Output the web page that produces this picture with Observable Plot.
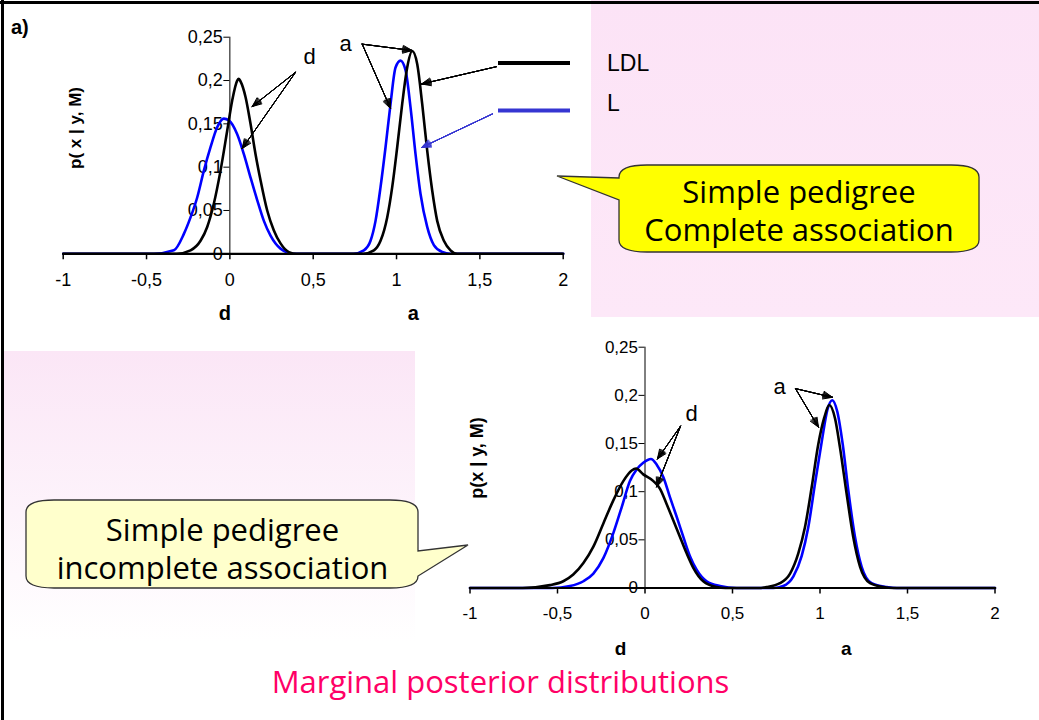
<!DOCTYPE html>
<html><head><meta charset="utf-8">
<script src="https://cdn.jsdelivr.net/npm/d3@7"></script>
<script src="https://cdn.jsdelivr.net/npm/@observablehq/plot@0.6"></script>
<style>
html,body{margin:0;padding:0;background:#fff;}
#slide{position:relative;width:1039px;height:720px;overflow:hidden;background:#fff;}
#slide svg{overflow:visible;}
</style></head><body><div id="slide"></div>
<script>
// ---------- data ----------
const series = ["LDL", "L"];
const colors = ["#000000", "#0000ff"];
const xTicks = [-1, -0.5, 0, 0.5, 1, 1.5, 2];
const yTicks = [0, 0.05, 0.1, 0.15, 0.2, 0.25];

// a) Simple pedigree, complete association
const topLDL_x = [-1, -0.32, -0.236, -0.176, -0.136, -0.096, -0.056, -0.016, 0.014, 0.044, 0.054, 0.064, 0.094, 0.124, 0.154, 0.184, 0.224, 0.264, 0.304, 0.354, 0.40, 0.80, 0.864, 0.904, 0.944, 0.974, 1.004, 1.034, 1.064, 1.094, 1.124, 1.154, 1.184, 1.214, 1.244, 1.284, 1.324, 1.364, 2];
const topLDL_y = [0, 0, 0.004, 0.015, 0.031, 0.058, 0.096, 0.142, 0.177, 0.200, 0.202, 0.199, 0.181, 0.150, 0.115, 0.085, 0.050, 0.027, 0.012, 0.002, 0, 0, 0.004, 0.015, 0.042, 0.077, 0.123, 0.173, 0.215, 0.234, 0.219, 0.173, 0.119, 0.073, 0.038, 0.015, 0.004, 0, 0];
const topL_x = [-1, -0.456, -0.336, -0.276, -0.236, -0.196, -0.156, -0.116, -0.076, -0.036, -0.006, 0.044, 0.084, 0.124, 0.164, 0.204, 0.244, 0.304, 0.384, 0.74, 0.804, 0.844, 0.874, 0.904, 0.934, 0.964, 0.994, 1.024, 1.054, 1.084, 1.114, 1.144, 1.184, 1.224, 1.274, 1.324, 2];
const topL_y = [0, 0, 0.004, 0.023, 0.042, 0.065, 0.096, 0.123, 0.146, 0.156, 0.154, 0.138, 0.115, 0.088, 0.062, 0.038, 0.021, 0.006, 0, 0, 0.004, 0.015, 0.038, 0.077, 0.123, 0.173, 0.215, 0.223, 0.212, 0.169, 0.115, 0.069, 0.031, 0.010, 0.002, 0, 0];

// Simple pedigree, incomplete association
const botLDL_x = [-1, -0.70, -0.543, -0.467, -0.41, -0.352, -0.295, -0.238, -0.181, -0.124, -0.076, -0.051, -0.01, 0.048, 0.086, 0.124, 0.162, 0.2, 0.238, 0.276, 0.333, 0.41, 0.46, 0.65, 0.695, 0.771, 0.829, 0.876, 0.914, 0.952, 0.99, 1.023, 1.053, 1.086, 1.114, 1.152, 1.19, 1.229, 1.286, 1.362, 1.42, 2];
const botLDL_y = [0, 0, 0.003, 0.007, 0.014, 0.026, 0.043, 0.067, 0.091, 0.111, 0.122, 0.124, 0.118, 0.111, 0.103, 0.087, 0.070, 0.053, 0.036, 0.021, 0.007, 0.001, 0, 0, 0.001, 0.005, 0.015, 0.036, 0.063, 0.104, 0.149, 0.176, 0.190, 0.176, 0.146, 0.098, 0.053, 0.022, 0.005, 0.001, 0, 0];
const botL_x = [-1, -0.53, -0.429, -0.352, -0.295, -0.238, -0.181, -0.133, -0.086, -0.048, -0.01, 0.034, 0.067, 0.105, 0.143, 0.181, 0.219, 0.257, 0.295, 0.352, 0.429, 0.524, 0.733, 0.79, 0.848, 0.895, 0.933, 0.971, 1.01, 1.042, 1.07, 1.099, 1.13, 1.162, 1.2, 1.238, 1.295, 1.381, 1.44, 2];
const botL_y = [0, 0, 0.002, 0.007, 0.015, 0.031, 0.057, 0.084, 0.111, 0.123, 0.130, 0.134, 0.128, 0.115, 0.094, 0.074, 0.053, 0.033, 0.019, 0.007, 0.002, 0, 0, 0.002, 0.012, 0.033, 0.063, 0.108, 0.152, 0.185, 0.195, 0.183, 0.149, 0.101, 0.053, 0.022, 0.005, 0.001, 0, 0];

// annotations (data units)
const topNotes = [{x: 0.478, y: 0.2277, text: "d"}, {x: 0.694, y: 0.2427, text: "a"}];
const topArrows = [
  {x1: 0.394, y1: 0.2095, x2: 0.134, y2: 0.170, c: 0},
  {x1: 0.394, y1: 0.2095, x2: 0.074, y2: 0.1215, c: 0},
  {x1: 0.794, y1: 0.242, x2: 1.094, y2: 0.2346, c: 0},
  {x1: 0.794, y1: 0.242, x2: 0.964, y2: 0.1677, c: 0},
  {x1: 1.600, y1: 0.216, x2: 1.150, y2: 0.196, c: 0},
  {x1: 1.576, y1: 0.1615, x2: 1.150, y2: 0.1227, c: 1}
];
const topAxisNames = [{x: -0.03, text: "d"}, {x: 1.10, text: "a"}];
const botNotes = [{x: 0.266, y: 0.181, text: "d"}, {x: 0.769, y: 0.2087, text: "a"}];
const botArrows = [
  {x1: 0.203, y1: 0.168, x2: 0.071, y2: 0.134, c: 0},
  {x1: 0.203, y1: 0.168, x2: 0.066, y2: 0.105, c: 0},
  {x1: 0.86, y1: 0.207, x2: 1.071, y2: 0.198, c: 0},
  {x1: 0.86, y1: 0.207, x2: 0.991, y2: 0.167, c: 0}
];
const botAxisNames = [{x: -0.14, text: "d"}, {x: 1.15, text: "a"}];

const texts = {
  panel: "a)",
  yTitleTop: "p( x | y, M)",
  yTitleBot: "p(x | y, M)",
  callout1: ["Simple pedigree", "Complete association"],
  callout2: ["Simple pedigree", "incomplete association"],
  title: "Marginal posterior distributions"
};

// ---------- helpers ----------
const fmt = v => String(v).replace(".", ",");
const toRows = (xs, ys) => xs.map((x, i) => ({x, y: ys[i]}));
const blueLegend = "#3535d2";

function arrowMarks(rows) {
  const angles = [46, 36, 26, 16, 6];
  return angles.map(a => Plot.arrow(rows, {
    x1: "x1", y1: "y1", x2: "x2", y2: "y2",
    stroke: d => d.c === 1 ? blueLegend : "#000",
    strokeWidth: 1, headAngle: a, headLength: 15
  }));
}

function chart(cfg) {
  const {W, H, mL, mR, mT, mB, L, B, notes, arrows, names, yTitle, ytDx, ytDy, ytFs, fs, xPad, namesDy, namesFs, noteFs} = cfg;
  const xPix = d3.scaleLinear([-1, 2], [mL, W - mR]);
  const dx0 = xPix(0) - mL;
  return Plot.plot({
    width: W, height: H,
    marginLeft: mL, marginRight: mR, marginTop: mT, marginBottom: mB,
    x: {domain: [-1, 2], label: null},
    y: {domain: [0, 0.25], label: null},
    style: {background: "transparent", fontFamily: "'Liberation Sans', Arial, sans-serif", fontSize: fs + "px", color: "#000", overflow: "visible"},
    marks: [
      Plot.axisY(yTicks, {anchor: "left", dx: dx0, tickSize: 6, tickPadding: 1, tickFormat: fmt, label: null, fontSize: fs}),
      Plot.ruleX([0], {y1: 0, y2: 0.25, stroke: "#000", strokeWidth: 1}),
      Plot.axisX(xTicks, {anchor: "bottom", tickSize: 6, tickPadding: xPad, tickFormat: fmt, label: null, strokeWidth: 1.5, fontSize: fs}),
      Plot.line(B, {x: "x", y: "y", stroke: colors[1], strokeWidth: 2.6, curve: "monotone-x"}),
      Plot.line(L, {x: "x", y: "y", stroke: colors[0], strokeWidth: 2.6, curve: "monotone-x"}),
      Plot.ruleY([0], {stroke: "#000", strokeWidth: 2.2}),
      ...arrowMarks(arrows),
      Plot.text(notes, {x: "x", y: "y", text: "text", fontSize: noteFs, lineAnchor: "middle"}),
      Plot.text(names, {x: "x", y: () => 0, text: "text", dy: namesDy, fontSize: namesFs, fontWeight: "bold", lineAnchor: "middle"}),
      Plot.text([yTitle], {frameAnchor: "left", textAnchor: "middle", rotate: -90, dx: ytDx, dy: ytDy, fontSize: ytFs, fontWeight: "bold", lineAnchor: "middle"})
    ]
  });
}

const slide = document.getElementById("slide");
function place(el, left, top, z) {
  const d = document.createElement("div");
  d.style.cssText = `position:absolute;left:${left}px;top:${top}px;z-index:${z};`;
  d.appendChild(el);
  slide.appendChild(d);
  return d;
}
function box(left, top, w, h, bg, z) {
  const d = document.createElement("div");
  d.style.cssText = `position:absolute;left:${left}px;top:${top}px;width:${w}px;height:${h}px;background:${bg};z-index:${z};`;
  slide.appendChild(d);
}

// backgrounds
box(591, 0, 448, 317, "linear-gradient(#fce3f6, #fde8f8)", 0);
box(4, 351, 411, 290, "linear-gradient(#fbe6f6, #fdf3fb 55%, #ffffff)", 0);

// charts
place(chart({
  W: 590, H: 330, mL: 62.7, mR: 27.3, mT: 36.7, mB: 76.7,
  L: toRows(topLDL_x, topLDL_y), B: toRows(topL_x, topL_y),
  notes: topNotes, arrows: topArrows, names: topAxisNames,
  yTitle: texts.yTitleTop, ytDx: 12.8, ytDy: -17.5, ytFs: 17, fs: 18, xPad: 13.5, namesDy: 59.5, namesFs: 20, noteFs: 22
}), 0, 0, 1);

place(chart({
  W: 590, H: 340, mL: 29.5, mR: 35.5, mT: 16.7, mB: 82.5,
  L: toRows(botLDL_x, botLDL_y), B: toRows(botL_x, botL_y),
  notes: botNotes, arrows: botArrows, names: botAxisNames,
  yTitle: texts.yTitleBot, ytDx: 7.5, ytDy: -9.6, ytFs: 18, fs: 17, xPad: 13.3, namesDy: 61, namesFs: 19, noteFs: 22
}), 440, 330, 1);

// decorations overlay
function calloutLeft(x0, y0, x1, y1, rx, ry, b1, b2, tx, ty) {
  return `M${x0+rx},${y0} H${x1-rx} Q${x1},${y0} ${x1},${y0+ry} V${y1-ry} Q${x1},${y1} ${x1-rx},${y1} H${x0+rx} Q${x0},${y1} ${x0},${y1-ry} V${b2} L${tx},${ty} L${x0},${b1} V${y0+ry} Q${x0},${y0} ${x0+rx},${y0} Z`;
}
function calloutRight(x0, y0, x1, y1, rx, ry, b1, b2, tx, ty) {
  return `M${x0+rx},${y0} H${x1-rx} Q${x1},${y0} ${x1},${y0+ry} V${b1} L${tx},${ty} L${x1},${b2} V${y1-ry} Q${x1},${y1} ${x1-rx},${y1} H${x0+rx} Q${x0},${y1} ${x0},${y1-ry} V${y0+ry} Q${x0},${y0} ${x0+rx},${y0} Z`;
}
const cf = "font-family:'Open Sans',sans-serif;font-size:31px;";
const ns = "http://www.w3.org/2000/svg";
const deco = document.createElementNS(ns, "svg");
deco.setAttribute("width", 1039); deco.setAttribute("height", 720);
deco.innerHTML = `
  <rect x="0" y="1" width="1039" height="3" fill="#000"/>
  <rect x="1" y="0" width="3" height="720" fill="#000"/>
  <text x="11" y="34" style="font-family:'Liberation Sans',Arial,sans-serif;font-weight:bold;font-size:20px;">${texts.panel}</text>
  <line x1="498" x2="570" y1="63" y2="63" stroke="${colors[0]}" stroke-width="4"/>
  <line x1="498" x2="570" y1="110.5" y2="110.5" stroke="${blueLegend}" stroke-width="4"/>
  <text x="607" y="63" dominant-baseline="central" style="font-family:'Liberation Sans',Arial,sans-serif;font-size:23px;">${series[0]}</text>
  <text x="607" y="102.5" dominant-baseline="central" style="font-family:'Liberation Sans',Arial,sans-serif;font-size:23px;">${series[1]}</text>
  <path d="${calloutLeft(619, 165, 979, 252, 28, 12, 178, 200, 557, 176)}" fill="#ffff00" stroke="#333" stroke-width="1.3"/>
  <text x="799" y="191" text-anchor="middle" dominant-baseline="central" style="${cf}">${texts.callout1[0]}</text>
  <text x="799" y="229" text-anchor="middle" dominant-baseline="central" style="${cf}">${texts.callout1[1]}</text>
  <path d="${calloutRight(26, 500, 418, 588, 28, 12, 551, 576, 468, 545)}" fill="#ffffcc" stroke="#333" stroke-width="1.3"/>
  <text x="222.5" y="528.5" text-anchor="middle" dominant-baseline="central" style="${cf}">${texts.callout2[0]}</text>
  <text x="222.5" y="566.5" text-anchor="middle" dominant-baseline="central" style="${cf}">${texts.callout2[1]}</text>
  <text x="500.5" y="681" text-anchor="middle" dominant-baseline="central" fill="#ff0066" style="font-family:'Open Sans',sans-serif;font-size:31px;">${texts.title}</text>
`;
place(deco, 0, 0, 2);
</script></body></html>
